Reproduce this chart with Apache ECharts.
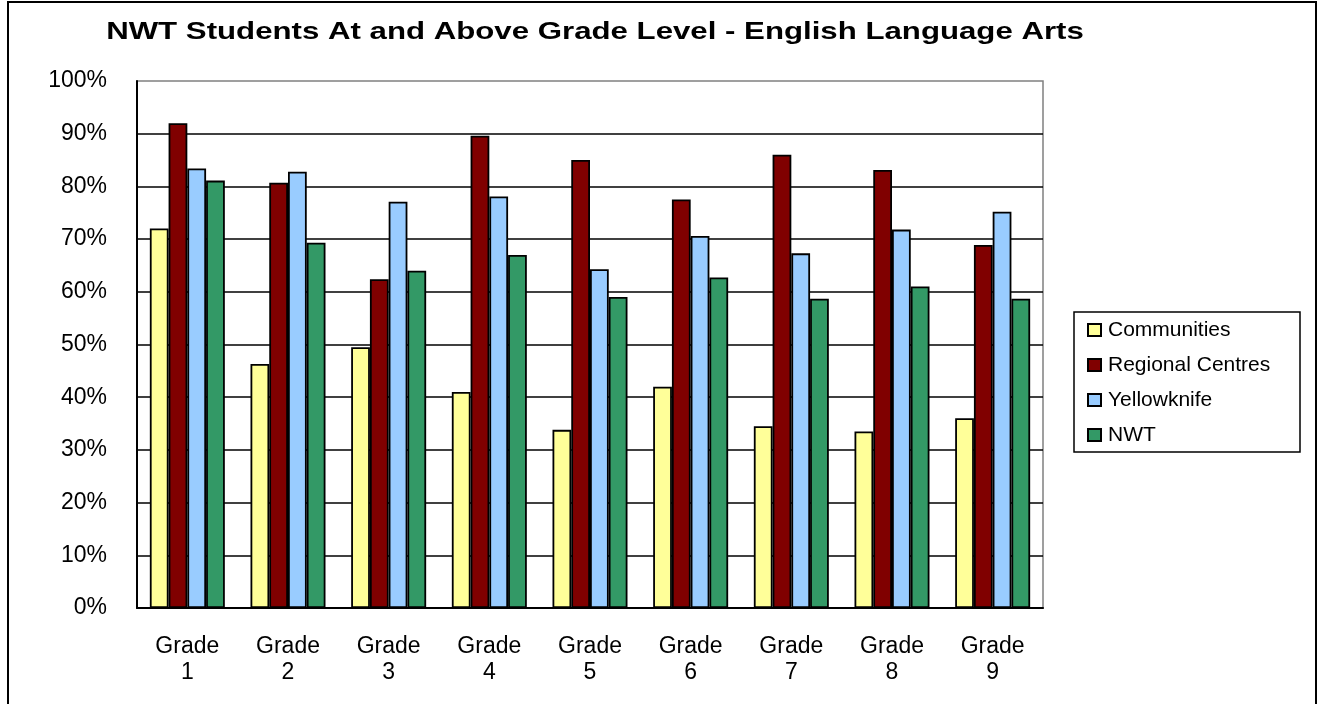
<!DOCTYPE html>
<html>
<head>
<meta charset="utf-8">
<script src="https://cdn.jsdelivr.net/npm/echarts@6/dist/echarts.min.js"></script>
<style>
html,body{margin:0;padding:0;background:#fff;}
#chart{width:1322px;height:704px;}
</style>
</head>
<body>
<div id="chart"></div>
<script>
const titleText = 'NWT Students At and Above Grade Level - English Language Arts';
const categories = ['Grade\n1','Grade\n2','Grade\n3','Grade\n4','Grade\n5','Grade\n6','Grade\n7','Grade\n8','Grade\n9'];
const seriesNames = ['Communities','Regional Centres','Yellowknife','NWT'];
const communities = [72.0, 46.3, 49.5, 41.0, 33.8, 42.0, 34.5, 33.5, 36.0];
const regional    = [92.0, 80.7, 62.4, 89.6, 85.0, 77.5, 86.0, 83.1, 68.9];
const yellowknife = [83.4, 82.8, 77.1, 78.1, 64.3, 70.6, 67.3, 71.8, 75.2];
const nwt         = [81.1, 69.3, 64.0, 67.0, 59.0, 62.7, 58.7, 61.0, 58.7];
const yTicks = [0,10,20,30,40,50,60,70,80,90,100];

const colors = ['#FFFF99','#800000','#99CCFF','#339966'];
const dataSets = [communities, regional, yellowknife, nwt];
const FONT = '"Liberation Sans", Arial, sans-serif';

const chart = echarts.init(document.getElementById('chart'), null, {renderer:'canvas'});
chart.setOption({
  animation:false,
  backgroundColor:'#fff',
  grid:{left:137, right:279, top:81, bottom:96, show:true, borderColor:'#808080', borderWidth:1.5, backgroundColor:'transparent'},
  legend:{
    orient:'vertical', left:1087, top:319, padding:0,
    itemWidth:13, itemHeight:12, itemGap:13,
    icon:'rect',
    textStyle:{fontFamily:FONT, fontSize:21, color:'#000', lineHeight:22, padding:[0,0,0,2]},
    data:seriesNames
  },
  xAxis:{
    type:'category', data:categories,
    axisLine:{show:true, lineStyle:{color:'#000', width:2}},
    axisTick:{show:false},
    axisLabel:{fontFamily:FONT, fontSize:23, color:'#000', lineHeight:26, margin:26, interval:0}
  },
  yAxis:{
    type:'value', min:0, max:100, interval:10,
    axisLine:{show:true, lineStyle:{color:'#000', width:2}},
    axisTick:{show:false},
    splitLine:{show:true, showMaxLine:false, lineStyle:{color:'#000', width:1.5}},
    axisLabel:{fontFamily:FONT, fontSize:23, color:'#000', margin:30, formatter: v => yTicks.includes(v) ? v + '%' : ''}
  },
  series: seriesNames.map((n,i)=>({
    name:n, type:'bar', data:dataSets[i],
    barGap:'0%', barCategoryGap:'25.5%',
    itemStyle:{color:colors[i], borderColor:'#000', borderWidth:1.8}
  })),
  graphic:[
    {type:'rect', shape:{x:8, y:2, width:1308, height:730}, style:{fill:'none', stroke:'#000', lineWidth:2}, silent:true, z:100},
    {type:'rect', shape:{x:1074, y:312, width:226, height:140}, style:{fill:'none', stroke:'#000', lineWidth:1.5}, silent:true, z:100},
    {type:'text', x:595, y:32, scaleX:1.3, style:{text:titleText, font:'bold 24px ' + FONT, fill:'#000', textAlign:'center', textVerticalAlign:'middle'}, z:100}
  ]
});
</script>
</body>
</html>
